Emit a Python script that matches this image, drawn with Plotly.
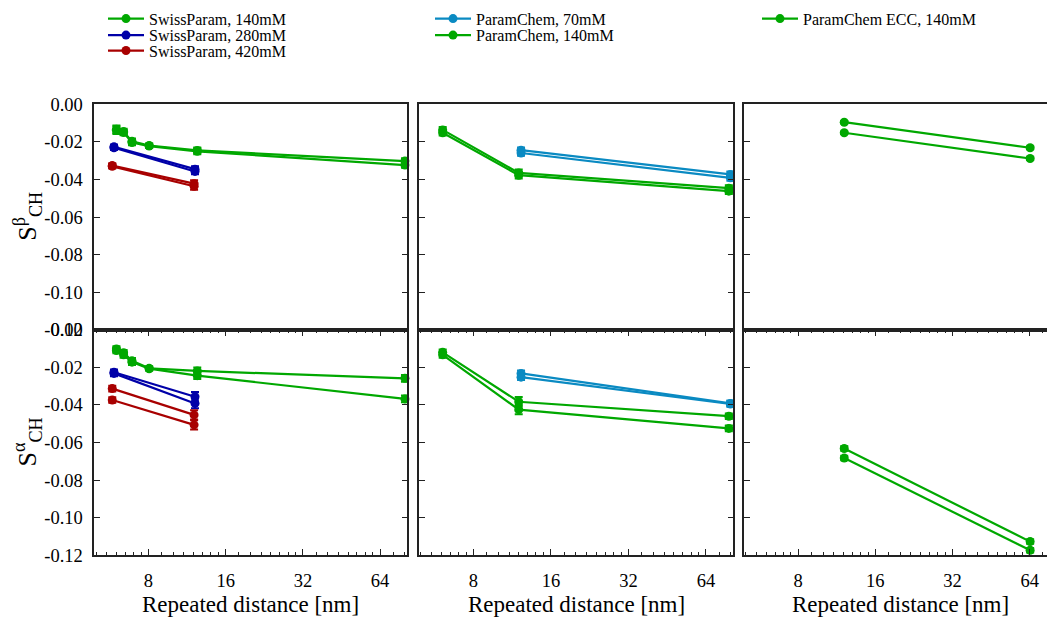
import math
import plotly.graph_objects as go
from plotly.subplots import make_subplots

FONT = "Liberation Serif, Times New Roman, serif"
GREEN = "#00a800"
NAVY = "#0000a8"
RED = "#a80000"
LBLUE = "#0a8ac2"

# ---------------- data ----------------
# Left column: SwissParam
sp140_x = [6.0, 6.4, 6.9, 8.05, 12.4, 80.0]
sp140_beta_1 = [-0.0133, -0.0145, -0.0197, -0.0219, -0.0245, -0.0302]
sp140_beta_2 = [-0.0138, -0.0150, -0.0203, -0.0222, -0.0250, -0.0323]
sp140_beta_err = [0.002, 0.0015, 0.0015, 0.001, 0.0015, 0.0015]
sp140_alpha_1 = [-0.0102, -0.0122, -0.0165, -0.0205, -0.0219, -0.0258]
sp140_alpha_2 = [-0.0110, -0.0133, -0.0172, -0.0207, -0.0244, -0.0368]
sp140_alpha_err = [0.0015, 0.0015, 0.0015, 0.001, 0.0018, 0.0018]

sp280_x = [5.87, 12.15]
sp280_beta_1 = [-0.0226, -0.0345]
sp280_beta_2 = [-0.0231, -0.0357]
sp280_beta_err = [0.0012, 0.0015]
sp280_alpha_1 = [-0.0226, -0.0356]
sp280_alpha_2 = [-0.0232, -0.0392]
sp280_alpha_err = [0.0015, 0.0025]

sp420_x = [5.78, 12.05]
sp420_beta_1 = [-0.0326, -0.0422]
sp420_beta_2 = [-0.0330, -0.0436]
sp420_beta_err = [0.0012, 0.0018]
sp420_alpha_1 = [-0.0313, -0.0453]
sp420_alpha_2 = [-0.0374, -0.0506]
sp420_alpha_err = [0.0015, 0.0025]

# Middle column: ParamChem
pc70_x = [12.25, 79.6]
pc70_beta_1 = [-0.0244, -0.0373]
pc70_beta_2 = [-0.0259, -0.0391]
pc70_beta_err = [0.0015, 0.0015]
pc70_alpha_1 = [-0.0232, -0.0392]
pc70_alpha_2 = [-0.0252, -0.0395]
pc70_alpha_err = [0.0015, 0.0015]

pc140_x = [6.08, 12.0, 78.5]
pc140_beta_1 = [-0.0136, -0.0365, -0.0446]
pc140_beta_2 = [-0.0151, -0.0377, -0.0462]
pc140_beta_err = [0.0015, 0.0018, 0.0015]
pc140_alpha_1 = [-0.0120, -0.0383, -0.0460]
pc140_alpha_2 = [-0.0133, -0.0425, -0.0525]
pc140_alpha_err = [0.0015, 0.0025, 0.0015]

# Right column: ParamChem ECC
ecc_x = [12.1, 64.2]
ecc_beta_1 = [-0.0095, -0.0231]
ecc_beta_2 = [-0.0151, -0.0288]
ecc_beta_err = [0.0007, 0.0008]
ecc_alpha_1 = [-0.0632, -0.1128]
ecc_alpha_2 = [-0.0683, -0.1174]
ecc_alpha_err = [0.0012, 0.0012]

x_tick_vals = [8, 16, 32, 64]
x_tick_text = ["8", "16", "32", "64"]
y_tick_vals = [0.0, -0.02, -0.04, -0.06, -0.08, -0.10, -0.12]
y_tick_text = ["0.00", "-0.02", "-0.04", "-0.06", "-0.08", "-0.10", "-0.12"]

# ---------------- figure ----------------
W, H = 1047, 620
fig = make_subplots(rows=2, cols=3)


def add(row, col, x, y, err, color, name, legend=None, show=False):
    fig.add_trace(
        go.Scatter(
            x=x, y=y, mode="lines+markers", name=name,
            line=dict(color=color, width=2.2),
            marker=dict(color=color, size=9, symbol="circle"),
            error_y=dict(type="data", array=err, color=color, thickness=2, width=4),
            showlegend=show, legend=legend, cliponaxis=False,
        ),
        row=row, col=col,
    )


# Left
add(1, 1, sp140_x, sp140_beta_1, sp140_beta_err, GREEN, "SwissParam, 140mM", "legend", True)
add(1, 1, sp140_x, sp140_beta_2, sp140_beta_err, GREEN, "SwissParam, 140mM")
add(1, 1, sp280_x, sp280_beta_1, sp280_beta_err, NAVY, "SwissParam, 280mM", "legend2", True)
add(1, 1, sp280_x, sp280_beta_2, sp280_beta_err, NAVY, "SwissParam, 280mM")
add(1, 1, sp420_x, sp420_beta_1, sp420_beta_err, RED, "SwissParam, 420mM", "legend3", True)
add(1, 1, sp420_x, sp420_beta_2, sp420_beta_err, RED, "SwissParam, 420mM")
add(2, 1, sp140_x, sp140_alpha_1, sp140_alpha_err, GREEN, "SwissParam, 140mM")
add(2, 1, sp140_x, sp140_alpha_2, sp140_alpha_err, GREEN, "SwissParam, 140mM")
add(2, 1, sp280_x, sp280_alpha_1, sp280_alpha_err, NAVY, "SwissParam, 280mM")
add(2, 1, sp280_x, sp280_alpha_2, sp280_alpha_err, NAVY, "SwissParam, 280mM")
add(2, 1, sp420_x, sp420_alpha_1, sp420_alpha_err, RED, "SwissParam, 420mM")
add(2, 1, sp420_x, sp420_alpha_2, sp420_alpha_err, RED, "SwissParam, 420mM")

# Middle
add(1, 2, pc70_x, pc70_beta_1, pc70_beta_err, LBLUE, "ParamChem, 70mM", "legend4", True)
add(1, 2, pc70_x, pc70_beta_2, pc70_beta_err, LBLUE, "ParamChem, 70mM")
add(1, 2, pc140_x, pc140_beta_1, pc140_beta_err, GREEN, "ParamChem, 140mM", "legend5", True)
add(1, 2, pc140_x, pc140_beta_2, pc140_beta_err, GREEN, "ParamChem, 140mM")
add(2, 2, pc70_x, pc70_alpha_1, pc70_alpha_err, LBLUE, "ParamChem, 70mM")
add(2, 2, pc70_x, pc70_alpha_2, pc70_alpha_err, LBLUE, "ParamChem, 70mM")
add(2, 2, pc140_x, pc140_alpha_1, pc140_alpha_err, GREEN, "ParamChem, 140mM")
add(2, 2, pc140_x, pc140_alpha_2, pc140_alpha_err, GREEN, "ParamChem, 140mM")

# Right
add(1, 3, ecc_x, ecc_beta_1, ecc_beta_err, GREEN, "ParamChem ECC, 140mM", "legend6", True)
add(1, 3, ecc_x, ecc_beta_2, ecc_beta_err, GREEN, "ParamChem ECC, 140mM")
add(2, 3, ecc_x, ecc_alpha_1, ecc_alpha_err, GREEN, "ParamChem ECC, 140mM")
add(2, 3, ecc_x, ecc_alpha_2, ecc_alpha_err, GREEN, "ParamChem ECC, 140mM")


def fx(px):
    return px / W


def fy(px):
    return 1 - px / H


xdom = [[fx(94.3), fx(407.3)], [fx(419), fx(733.3)], [fx(744), 1.0]]
ydom = [[fy(330.5), fy(97.5)], [fy(563.3), fy(330.5)]]
xr_full = [math.log10(4.92), math.log10(81.7)]
xr_right = [math.log10(4.92), math.log10(74.7)]

minor_vals = [4.5, 5, 5.5, 6, 6.5, 7, 7.5, 9, 10, 11, 12, 13, 14, 15,
              18, 20, 22, 24, 26, 28, 30, 36, 40, 44, 48, 52, 56, 60, 72, 80]

AX = "#222222"
layout_axes = {}
for r in range(2):
    for c in range(3):
        idx = r * 3 + c + 1
        xname = "xaxis" if idx == 1 else f"xaxis{idx}"
        yname = "yaxis" if idx == 1 else f"yaxis{idx}"
        xa = dict(
            type="log", domain=xdom[c], range=xr_right if c == 2 else xr_full,
            showgrid=False, zeroline=False, showline=True, linecolor=AX, linewidth=1.5,
            tickvals=x_tick_vals, ticktext=x_tick_text,
            tickfont=dict(family=FONT, size=18.5, color="black"),
        )
        if r == 0:
            xa.update(mirror=True, ticks="", showticklabels=False)
        else:
            xa.update(mirror="ticks", ticks="inside", ticklen=6, tickwidth=1.2, tickcolor=AX,
                      showticklabels=True, ticklabelstandoff=8,
                      minor=dict(tickvals=minor_vals, ticks="inside", ticklen=3,
                                 tickwidth=1, tickcolor=AX, showgrid=False))
        ya = dict(
            domain=ydom[r], range=[-0.12, 0.0],
            showgrid=False, zeroline=False, showline=True, linecolor=AX, linewidth=1.5,
            tickvals=y_tick_vals, ticktext=y_tick_text,
            ticks="inside", ticklen=6, tickwidth=1.2, tickcolor=AX,
            mirror=("ticks" if c < 2 else False),
            showticklabels=(c == 0), ticklabelstandoff=6,
            tickfont=dict(family=FONT, size=18.5, color="black"),
        )
        layout_axes[xname] = xa
        layout_axes[yname] = ya

fig.update_layout(**layout_axes)

# legends
leg_common = dict(xanchor="left", yanchor="middle", bgcolor="rgba(0,0,0,0)", borderwidth=0,
                  font=dict(family=FONT, size=16, color="black"), itemwidth=36)
leg_pos = {
    "legend": (103, 9), "legend2": (103, 26), "legend3": (103, 42),
    "legend4": (430, 9), "legend5": (430, 26),
    "legend6": (757, 9),
}
for k, (px, py) in leg_pos.items():
    fig.update_layout({k: dict(x=fx(px), y=fy(py), **leg_common)})

annotations = []
for c, cx in enumerate([250.8, 576.1, 900.5]):
    annotations.append(dict(
        text="Repeated distance [nm]", xref="paper", yref="paper",
        x=fx(cx), y=fy(614.5), xanchor="center", yanchor="middle", showarrow=False,
        font=dict(family=FONT, size=23, color="black")))
annotations.append(dict(
    text="S<sup>β</sup><sub>CH</sub>", xref="paper", yref="paper",
    x=fx(27), y=fy(213.7), xanchor="center", yanchor="middle", showarrow=False,
    textangle=-90, font=dict(family=FONT, size=26, color="black")))
annotations.append(dict(
    text="S<sup>α</sup><sub>CH</sub>", xref="paper", yref="paper",
    x=fx(27), y=fy(447), xanchor="center", yanchor="middle", showarrow=False,
    textangle=-90, font=dict(family=FONT, size=26, color="black")))

fig.update_layout(
    width=W, height=H,
    margin=dict(l=0, r=0, t=0, b=0),
    paper_bgcolor="white", plot_bgcolor="white",
    font=dict(family=FONT, color="black"),
    annotations=annotations,
)

fig.write_html("out.html")
